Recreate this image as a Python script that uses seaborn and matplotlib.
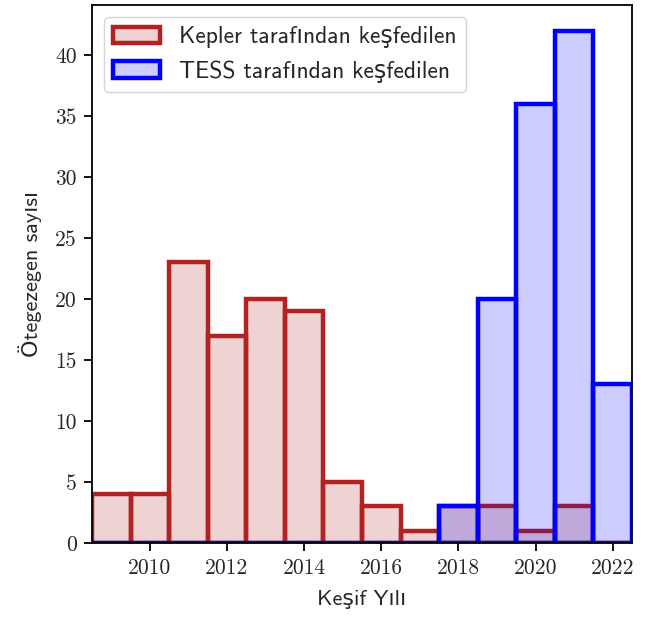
import numpy as np
import pandas as pd
import matplotlib
matplotlib.use("Agg")
import matplotlib.pyplot as plt
import seaborn as sns

years = [2009, 2010, 2011, 2012, 2013, 2014, 2015, 2016, 2017, 2018, 2019, 2020, 2021, 2022]
kepler_counts = [4, 4, 23, 17, 20, 19, 5, 3, 1, 3, 3, 1, 3, 0]
tess_counts = [0, 0, 0, 0, 0, 0, 0, 0, 0, 3, 20, 36, 42, 13]
x_ticks = [2010, 2012, 2014, 2016, 2018, 2020, 2022]

df = pd.DataFrame({'year': years, 'kepler': kepler_counts, 'tess': tess_counts})

sns.set_style("ticks")
plt.rcParams['font.family'] = ['cmss10', 'DejaVu Sans']
plt.rcParams['axes.unicode_minus'] = False

fig, ax = plt.subplots(figsize=(6.51, 6.19), dpi=100)
fig.subplots_adjust(left=92/651, right=632/651, top=1-5/619, bottom=1-543/619)
bins = list(np.arange(years[0] - 0.5, years[-1] + 1.5, 1))

sns.histplot(data=df, x='year', weights='kepler', bins=bins, ax=ax,
             facecolor=(0.698, 0.133, 0.133, 0.2), edgecolor='firebrick', linewidth=3.2,
             label='Kepler tarafından keşfedilen')
sns.histplot(data=df, x='year', weights='tess', bins=bins, ax=ax,
             facecolor=(0, 0, 1, 0.2), edgecolor='blue', linewidth=3.2,
             label='TESS tarafından keşfedilen')

ax.set_xlim(bins[0], bins[-1])
ax.set_xticks(x_ticks)
for lab in ax.get_xticklabels() + ax.get_yticklabels():
    lab.set_fontfamily('cmr10')
    lab.set_fontsize(15.5)
ax.set_xlabel('Keşif Yılı', fontsize=16, labelpad=9)
ax.set_ylabel('Ötegezegen sayısı', fontsize=16, labelpad=9)
ax.tick_params(length=6, width=1.3, color='black', pad=5)
for s in ax.spines.values():
    s.set_linewidth(1.3)
    s.set_color('black')
    s.set_visible(True)
ax.legend(loc='upper left', fontsize=17)

fig.savefig('out.png', dpi=100)
